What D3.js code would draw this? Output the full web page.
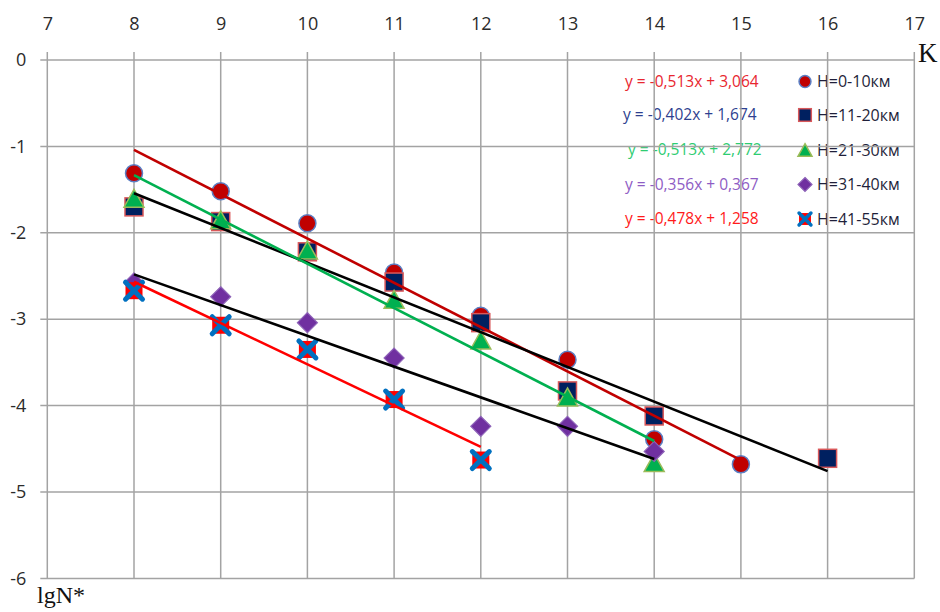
<!DOCTYPE html>
<html>
<head>
<meta charset="utf-8">
<script src="https://cdn.jsdelivr.net/npm/d3@7"></script>
<style>
  html, body { margin: 0; padding: 0; background: #fff; }
  svg { display: block; }
  text { font-family: "Open Sans", "Noto Sans", sans-serif; }
</style>
</head>
<body>
<svg id="chart" width="940" height="612"></svg>
<script>
// Axis ticks
const kTicks = [7, 8, 9, 10, 11, 12, 13, 14, 15, 16, 17];
const lgTicks = [0, -1, -2, -3, -4, -5, -6];

// Altitude bands
const bandNames = ["H=0-10км", "H=11-20км", "H=21-30км", "H=31-40км", "H=41-55км"];

// K values and lgN* per band
const k0_10  = [8, 9, 10, 11, 12, 13, 14, 15];
const lg0_10 = [-1.31, -1.52, -1.89, -2.46, -2.96, -3.47, -4.39, -4.68];

const k11_20  = [8, 9, 10, 11, 12, 13, 14, 16];
const lg11_20 = [-1.70, -1.87, -2.22, -2.57, -3.04, -3.83, -4.12, -4.61];

const k21_30  = [8, 9, 10, 11, 12, 13, 14];
const lg21_30 = [-1.60, -1.85, -2.20, -2.77, -3.24, -3.90, -4.66];

const k31_40  = [8, 9, 10, 11, 12, 13, 14];
const lg31_40 = [-2.58, -2.74, -3.04, -3.45, -4.24, -4.24, -4.53];

const k41_55  = [8, 9, 10, 11, 12];
const lg41_55 = [-2.67, -3.07, -3.35, -3.93, -4.63];

// Linear trend coefficients (y = slope * x + intercept)
const trendSlopes     = [-0.513, -0.402, -0.513, -0.356, -0.478];
const trendIntercepts = [3.064, 1.674, 2.772, 0.367, 1.258];

const seriesK  = [k0_10, k11_20, k21_30, k31_40, k41_55];
const seriesLg = [lg0_10, lg11_20, lg21_30, lg31_40, lg41_55];

const markerKinds = ["circle", "square", "triangle", "diamond", "cross"];
const trendColors = ["#C00000", "#000000", "#00B050", "#000000", "#FF0000"];
const eqColors    = ["#E8262F", "#2E3F8F", "#2ECC71", "#8E5CC4", "#FF1A1A"];

const svg = d3.select("#chart");

const x = d3.scaleLinear().domain([7, 17]).range([47.3, 914.3]);
const y = d3.scaleLinear().domain([0, -6]).range([60, 578.4]);

const gridColor = "#A3A3A3";

// Text layers sit beneath the grid
const labelLayer = svg.append("g").attr("class", "labels");

// Grid
const grid = svg.append("g").attr("class", "grid");
grid.selectAll("line.v").data(kTicks).join("line")
  .attr("class", "v")
  .attr("x1", d => x(d)).attr("x2", d => x(d))
  .attr("y1", y(0) - 8).attr("y2", y(-6))
  .attr("stroke", gridColor).attr("stroke-width", 1.5);
grid.selectAll("line.h").data(lgTicks).join("line")
  .attr("class", "h")
  .attr("x1", x(7) - 7).attr("x2", x(17))
  .attr("y1", d => y(d)).attr("y2", d => y(d))
  .attr("stroke", gridColor).attr("stroke-width", 1.5);

// Axes (labels only; lines come from the grid)
const xAxis = svg.append("g")
  .attr("transform", `translate(0,${y(0)})`)
  .call(d3.axisTop(x).tickValues(kTicks).tickSize(8).tickPadding(22).tickFormat(d3.format("d")));
const yAxis = svg.append("g")
  .attr("transform", `translate(${x(7)},0)`)
  .call(d3.axisLeft(y).tickValues(lgTicks).tickSize(7).tickPadding(14).tickFormat(d => d === 0 ? "0" : "-" + Math.abs(d)));
[xAxis, yAxis].forEach(a => {
  a.select(".domain").remove();
  a.selectAll(".tick line").remove();
  a.selectAll(".tick text")
    .attr("fill", "#2b2b2b")
    .style("font-family", '"Open Sans", sans-serif')
    .style("font-size", "18px");
});

// Axis titles
svg.append("text")
  .attr("x", 918).attr("y", 62)
  .style("font-family", '"Liberation Serif", "DejaVu Serif", serif')
  .style("font-size", "27px").attr("fill", "#111")
  .text("K");
svg.append("text")
  .attr("x", 37).attr("y", 603)
  .style("font-family", '"Liberation Serif", "DejaVu Serif", serif')
  .style("font-size", "24px").attr("fill", "#111")
  .text("lgN*");

// Marker drawing
function drawMarker(g, kind, s) {
  // s = scale factor (1 for plot, smaller for legend)
  if (kind === "circle") {
    g.append("circle").attr("r", 8.5 * s)
      .attr("fill", "#C00000").attr("stroke", "#5B7FC4").attr("stroke-width", 1.5);
  } else if (kind === "square") {
    const h = 9 * s;
    g.append("rect").attr("x", -h).attr("y", -h).attr("width", 2 * h).attr("height", 2 * h)
      .attr("fill", "#002060").attr("stroke", "#D9585A").attr("stroke-width", 1.5);
  } else if (kind === "triangle") {
    const w = 10 * s, h = 9 * s;
    g.append("path").attr("d", `M0,${-h} L${w},${h} L${-w},${h} Z`)
      .attr("fill", "#00B050").attr("stroke", "#9BBB59").attr("stroke-width", 1.5);
  } else if (kind === "diamond") {
    const r = 10 * s;
    g.append("path").attr("d", `M0,${-r} L${r},0 L0,${r} L${-r},0 Z`)
      .attr("fill", "#7030A0").attr("stroke", "#8E63B8").attr("stroke-width", 1.2);
  } else if (kind === "cross") {
    const h = 8.5 * s, c = 8.5 * s;
    g.append("rect").attr("x", -h).attr("y", -h).attr("width", 2 * h).attr("height", 2 * h)
      .attr("fill", "#FF0000");
    g.append("path").attr("d", `M${-c},${-c} L${c},${c} M${c},${-c} L${-c},${c}`)
      .attr("stroke", "#0070C0").attr("stroke-width", 5 * s).attr("stroke-linecap", "round");
  }
}

// Points
seriesK.forEach((ks, i) => {
  const pts = ks.map((k, j) => ({ k, v: seriesLg[i][j] }));
  const g = svg.append("g").attr("class", "series-" + i);
  g.selectAll("g").data(pts).join("g")
    .attr("transform", d => `translate(${x(d.k)},${y(d.v)})`)
    .each(function () { drawMarker(d3.select(this), markerKinds[i], 1); });
});

// Trend lines over each band's K range
const line = d3.line().x(d => x(d[0])).y(d => y(d[1]));
seriesK.forEach((ks, i) => {
  const [k0, k1] = d3.extent(ks);
  const f = k => trendSlopes[i] * k + trendIntercepts[i];
  svg.append("path")
    .attr("d", line([[k0, f(k0)], [k1, f(k1)]]))
    .attr("fill", "none")
    .attr("stroke", trendColors[i])
    .attr("stroke-width", 2.6);
});

// Equation labels
const fmt = v => d3.format(".3f")(Math.abs(v)).replace(".", ",");
const rowY = [81.5, 115, 150, 184.5, 219];
const eqX = [625, 623, 628, 625, 625];
labelLayer.append("g").selectAll("text").data(trendSlopes).join("text")
  .attr("x", (d, i) => eqX[i]).attr("y", (d, i) => rowY[i])
  .attr("dy", "0.35em")
  .attr("fill", (d, i) => eqColors[i])
  .style("font-size", "15.5px")
  .text((d, i) => `y = ${d < 0 ? "-" : ""}${fmt(d)}x ${trendIntercepts[i] < 0 ? "-" : "+"} ${fmt(trendIntercepts[i])}`);

// Legend
const legend = svg.append("g").selectAll("g").data(bandNames).join("g")
  .attr("transform", (d, i) => `translate(805,${rowY[i]})`);
legend.each(function (d, i) { drawMarker(d3.select(this), markerKinds[i], 0.7); });
labelLayer.append("g").selectAll("text").data(bandNames).join("text")
  .attr("x", 817).attr("y", (d, i) => rowY[i]).attr("dy", "0.35em")
  .attr("fill", "#1f1f3a")
  .style("font-size", "16px")
  .text(d => d);
</script>
</body>
</html>
